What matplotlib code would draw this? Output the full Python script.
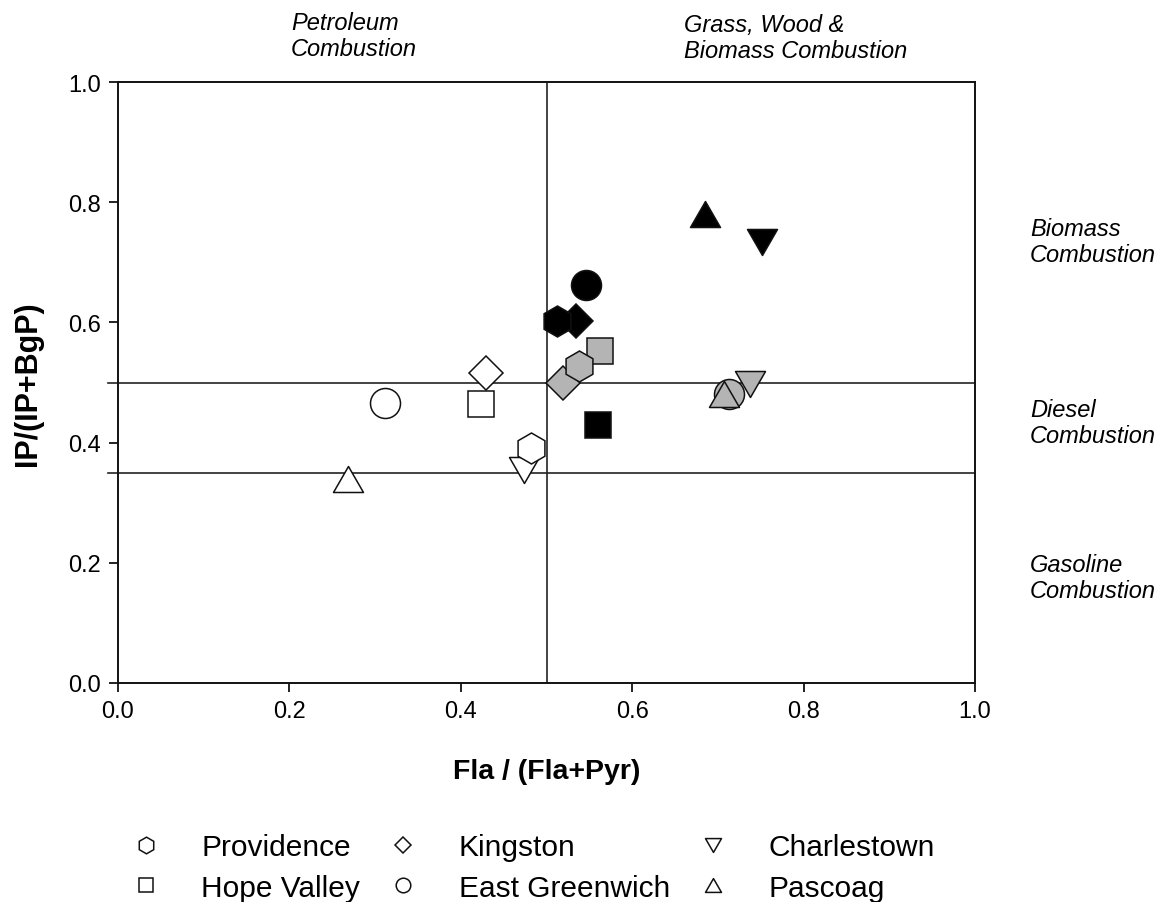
import matplotlib
matplotlib.use('Agg')
import matplotlib.pyplot as plt
from matplotlib.lines import Line2D
from matplotlib.path import Path

plt.rcParams['font.family'] = ['Liberation Sans', 'DejaVu Sans']

sites = ['Providence', 'Hope Valley', 'Kingston', 'East Greenwich', 'Charlestown', 'Pascoag']

# Fla/(Fla+Pyr) and IP/(IP+BgP) for the three sample groups
x_white = [0.482, 0.424, 0.429, 0.311, 0.474, 0.268]
y_white = [0.391, 0.465, 0.516, 0.466, 0.355, 0.340]
x_gray = [0.538, 0.563, 0.519, 0.713, 0.737, 0.707]
y_gray = [0.527, 0.552, 0.500, 0.481, 0.498, 0.481]
x_black = [0.512, 0.560, 0.534, 0.546, 0.752, 0.685]
y_black = [0.603, 0.429, 0.603, 0.662, 0.734, 0.781]

ref_x = [0.5]
ref_y = [0.35, 0.5]

ticks = [0.0, 0.2, 0.4, 0.6, 0.8, 1.0]

codes = [Path.MOVETO, Path.LINETO, Path.LINETO, Path.CLOSEPOLY]
tri_up = Path([(0, 0.5), (-0.577, -0.5), (0.577, -0.5), (0, 0.5)], codes)
tri_dn = Path([(0, -0.5), (-0.577, 0.5), (0.577, 0.5), (0, -0.5)], codes)
markers = {'Providence': ('h', 22.3), 'Hope Valley': ('s', 18.7),
           'Kingston': ('D', 17.3), 'East Greenwich': ('o', 21.6),
           'Charlestown': (tri_dn, 21.6), 'Pascoag': (tri_up, 21.6)}
draw_rank = {'East Greenwich': 1, 'Pascoag': 2, 'Charlestown': 3,
             'Kingston': 4, 'Hope Valley': 5, 'Providence': 6}

fig = plt.figure(figsize=(11.6, 9.03), dpi=100)
ax = fig.add_axes([118 / 1160, 1 - 684 / 903, 857 / 1160, 601 / 903])

for xs, ys, fc in [(x_white, y_white, 'white'), (x_gray, y_gray, '#b4b4b4'),
                   (x_black, y_black, 'black')]:
    for i, s in enumerate(sites):
        m, ms = markers[s]
        ax.plot(xs[i], ys[i], linestyle='none', marker=m, markersize=ms,
                markerfacecolor=fc, markeredgecolor='#111111', markeredgewidth=1.1,
                zorder=3 + draw_rank[s] * 0.1)

for v in ref_x:
    ax.axvline(v, color='#222222', lw=1.2, zorder=2)
for v in ref_y:
    ax.axhline(v, xmin=-0.012, xmax=1, color='#222222', lw=1.2, zorder=2, clip_on=False)

ax.set_xlim(0, 1)
ax.set_ylim(0, 1)
ax.set_xticks(ticks)
ax.set_yticks(ticks)
ax.set_xticklabels([f'{t:.1f}' for t in ticks])
ax.set_yticklabels([f'{t:.1f}' for t in ticks])
ax.tick_params(direction='out', length=6.5, width=1.3, labelsize=17, pad=6, color='#111111')
for sp in ax.spines.values():
    sp.set_linewidth(1.4)
    sp.set_color('#111111')

ax.set_xlabel('Fla / (Fla+Pyr)', fontsize=20.5, fontweight='bold', labelpad=26)
ax.set_ylabel('IP/(IP+BgP)', fontsize=22, fontweight='bold', labelpad=18)

note_kw = dict(fontsize=17, style='italic', va='center', ha='left', linespacing=1.15,
               clip_on=False)
ax.text(0.202, 1.077, 'Petroleum\nCombustion', **note_kw)
ax.text(0.660, 1.074, 'Grass, Wood &\nBiomass Combustion', **note_kw)
ax.text(1.064, 0.735, 'Biomass\nCombustion', **note_kw)
ax.text(1.064, 0.433, 'Diesel\nCombustion', **note_kw)
ax.text(1.064, 0.175, 'Gasoline\nCombustion', **note_kw)

leg_ms = {'Providence': 12, 'Hope Valley': 10.5, 'Kingston': 8.5,
          'East Greenwich': 10.5, 'Charlestown': 11.5, 'Pascoag': 11.5}
handles = [Line2D([], [], linestyle='none', marker=markers[s][0], markersize=leg_ms[s],
                  markerfacecolor='white', markeredgecolor='#111111', markeredgewidth=1.1)
           for s in sites]
fig.legend(handles, sites, ncol=3, loc='upper left',
           bbox_to_anchor=(131 / 1160, 1 - 834 / 903), frameon=False, fontsize=21.5,
           handlelength=1.0, handletextpad=1.35, columnspacing=0.95, labelspacing=0.42,
           borderpad=0, borderaxespad=0)

fig.savefig('out.png', dpi=100)
